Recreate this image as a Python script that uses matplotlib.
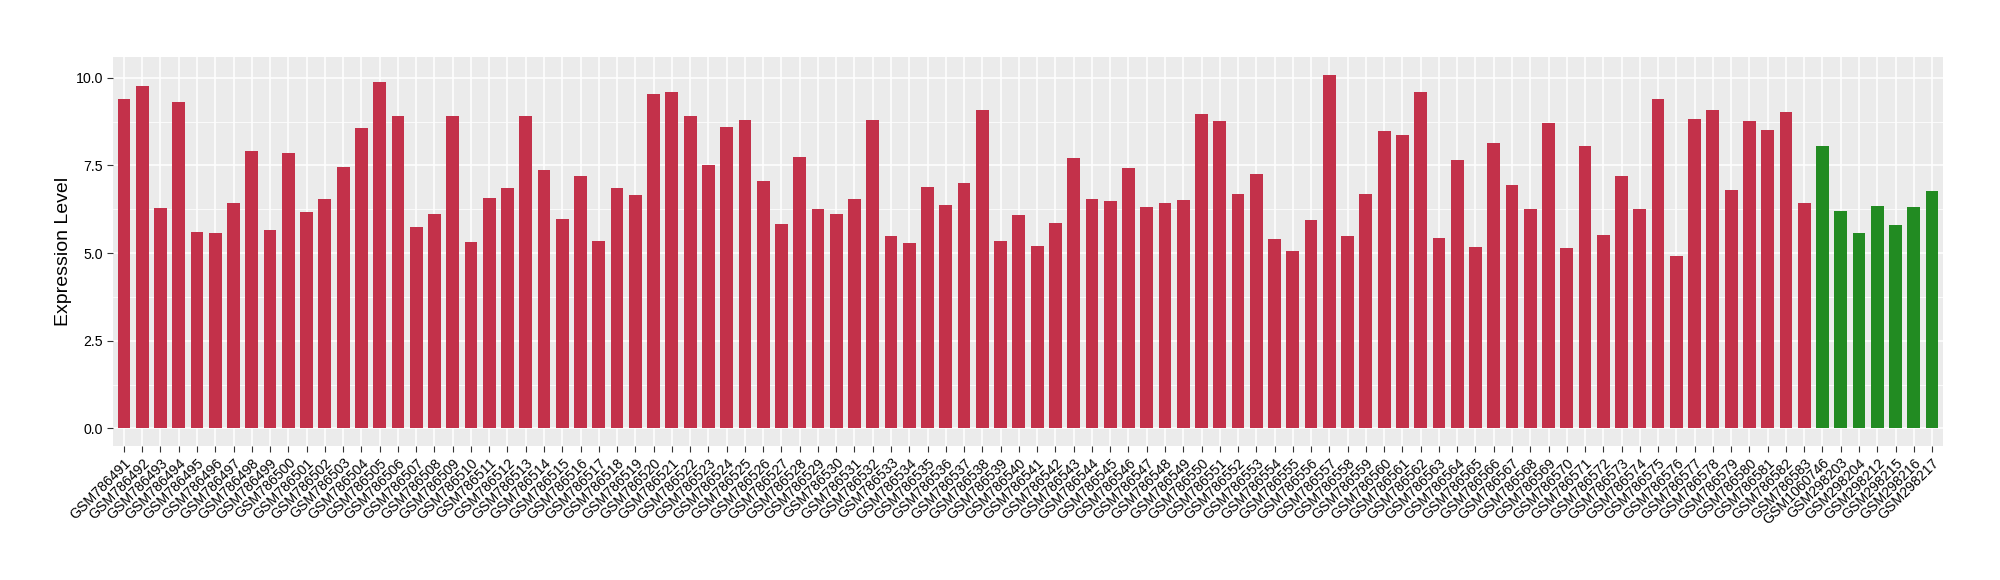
import numpy as np
import matplotlib
matplotlib.use("Agg")
import matplotlib.pyplot as plt
from matplotlib.ticker import MultipleLocator

plt.rcParams['font.family'] = ['Liberation Sans', 'DejaVu Sans']

# tumour samples (red) then normal samples (green)
tumor_ids = ["GSM%d" % n for n in range(786491, 786584)]
normal_ids = ["GSM1060746", "GSM298203", "GSM298204", "GSM298212",
              "GSM298215", "GSM298216", "GSM298217"]

tumor_vals = [
    9.41, 9.78, 6.28, 9.30, 5.60, 5.57, 6.42, 7.90, 5.65, 7.85,
    6.17, 6.54, 7.45, 8.56, 9.87, 8.90, 5.74, 6.11, 8.90, 5.31,
    6.57, 6.85, 8.90, 7.36, 5.97, 7.19, 5.34, 6.85, 6.65, 9.55,
    9.61, 8.90, 7.50, 8.59, 8.79, 7.05, 5.83, 7.73, 6.25, 6.11,
    6.54, 8.81, 5.48, 5.28, 6.88, 6.37, 6.99, 9.07, 5.34, 6.08,
    5.20, 5.85, 7.70, 6.54, 6.48, 7.42, 6.31, 6.42, 6.51, 8.96,
    8.76, 6.68, 7.25, 5.40, 5.06, 5.94, 10.09, 5.48, 6.68, 8.47,
    8.36, 9.61, 5.43, 7.65, 5.17, 8.13, 6.94, 6.25, 8.70, 5.14,
    8.07, 5.51, 7.19, 6.25, 9.41, 4.91, 8.84, 9.07, 6.79, 8.76,
    8.50, 9.04, 6.42,
]
normal_vals = [8.05, 6.20, 5.57, 6.34, 5.80, 6.31, 6.76]

labels = tumor_ids + normal_ids
values = tumor_vals + normal_vals
colors = ["#C3314A"] * len(tumor_vals) + ["#228B22"] * len(normal_vals)

fig = plt.figure(figsize=(20, 5.8), dpi=100)
ax = fig.add_axes([0.0565, 0.231, 0.915, 0.671])
ax.set_facecolor("#EBEBEB")

x = np.arange(len(values))
ax.bar(x, values, width=0.7, color=colors, zorder=3)

ax.set_xlim(-0.6, len(values) - 0.4)
ax.set_ylim(-0.505, 10.6)
ax.yaxis.set_minor_locator(MultipleLocator(1.25))
ax.set_yticks([0, 2.5, 5, 7.5, 10])
ax.set_yticklabels(["0.0", "2.5", "5.0", "7.5", "10.0"])

ax.set_xticks(x)
ax.set_xticklabels(labels, rotation=45, ha="right", rotation_mode="anchor",
                   fontsize=10.2)
ax.tick_params(axis="x", length=4, color="#333333", pad=3)
ax.tick_params(axis="y", which="major", length=4, color="#333333",
               labelsize=10.2, pad=3)
ax.tick_params(axis="y", which="minor", length=0)

ax.grid(True, which="major", color="white", linewidth=1.1, zorder=0)
ax.grid(True, which="minor", axis="y", color="white", linewidth=0.55, zorder=0)
ax.set_axisbelow(True)
for s in ax.spines.values():
    s.set_visible(False)

ax.set_ylabel("Expression Level", fontsize=14, labelpad=2.5)

fig.savefig("out.png", dpi=100)
